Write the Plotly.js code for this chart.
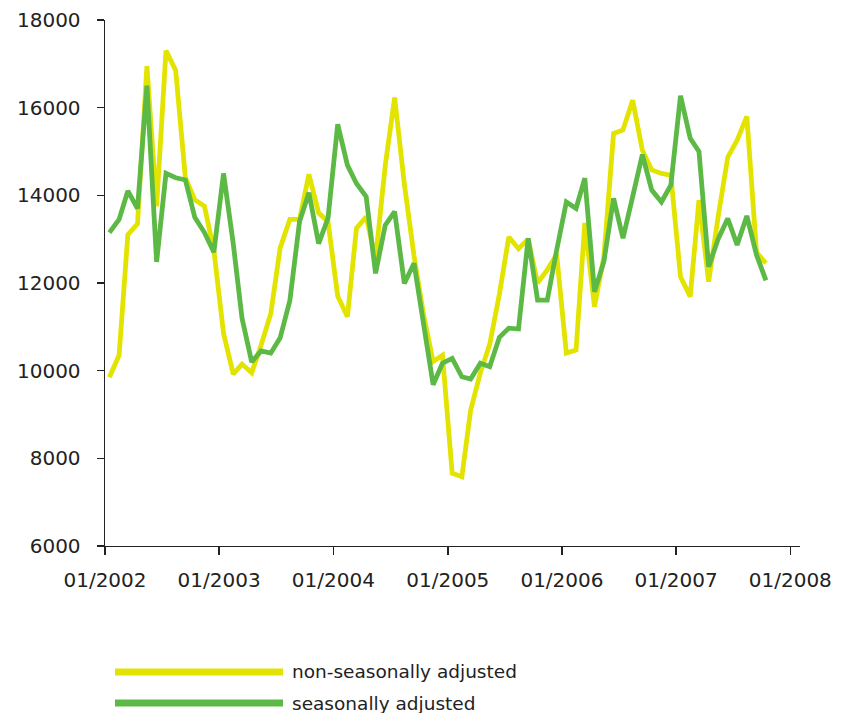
<!DOCTYPE html>
<html>
<head>
<meta charset="utf-8">
<script src="https://cdn.plot.ly/plotly-3.0.1.min.js"></script>
<style>
html,body{margin:0;padding:0;background:#fff;}
#chart{width:851px;height:713px;}
</style>
</head>
<body>
<div id="chart"></div>
<script>
// Monthly series, Jan 2002 – Oct 2007
var startYear = 2002;
var nonSeasonal = [
  9850, 10350, 13100, 13350, 16950, 13750, 17300, 16850, 14400, 13900, 13750, 12750,
  10850, 9920, 10150, 9950, 10580, 11300, 12800, 13450, 13450, 14480, 13600, 13400,
  11700, 11230, 13250, 13510, 12550, 14680, 16230, 14260, 12620, 11300, 10210, 10350,
  7660, 7580, 9100, 9950, 10600, 11750, 13050, 12780, 13000, 12000, 12300, 12650,
  10400, 10470, 13370, 11460, 12600, 15410, 15490, 16170, 15030, 14580, 14500, 14460,
  12140, 11690, 13890, 12030, 13500, 14870, 15260, 15800, 12700, 12450
];
var seasonal = [
  13150, 13450, 14100, 13700, 16500, 12480, 14500, 14400, 14350, 13500, 13150, 12700,
  14500, 12900, 11200, 10200, 10450, 10400, 10750, 11600, 13400, 14060, 12900, 13480,
  15620, 14690, 14270, 13970, 12220, 13320, 13630, 11990, 12450, 11080, 9680, 10170,
  10280, 9860, 9810, 10170, 10090, 10760, 10970, 10950, 13020, 11610, 11610, 12750,
  13850, 13700, 14390, 11800, 12490, 13930, 13020, 13970, 14930, 14120, 13850, 14230,
  16270, 15300, 15000, 12370, 13000, 13470, 12870, 13530, 12640, 12060
];
var seriesNames = ['non-seasonally adjusted', 'seasonally adjusted'];
var seriesColors = ['#e3e300', '#5cb946'];
var tickDates = ['2002-01-01','2003-01-01','2004-01-01','2005-01-01','2006-01-01','2007-01-01','2008-01-01'];
var tickText = ['01/2002','01/2003','01/2004','01/2005','01/2006','01/2007','01/2008'];
var yTicks = [6000, 8000, 10000, 12000, 14000, 16000, 18000];
var yTickText = ['6000', '8000', '10000', '12000', '14000', '16000', '18000'];

function pad(n){ return (n < 10 ? '0' : '') + n; }
var dates = [];
for (var i = 0; i < nonSeasonal.length; i++) {
  var y = startYear + Math.floor(i / 12);
  var m = (i % 12) + 1;
  dates.push(y + '-' + pad(m) + '-15');
}

var traces = [
  {x: dates, y: nonSeasonal, type: 'scatter', mode: 'lines', name: seriesNames[0],
   line: {color: seriesColors[0], width: 4.8}, hoverinfo: 'skip'},
  {x: dates, y: seasonal, type: 'scatter', mode: 'lines', name: seriesNames[1],
   line: {color: seriesColors[1], width: 4.8}, hoverinfo: 'skip'}
];

var font = {family: 'DejaVu Sans, Verdana, sans-serif', size: 20, color: '#222'};
var legY = [-0.2395, -0.2985];
var shapes = [], annotations = [];
for (var k = 0; k < 2; k++) {
  shapes.push({type: 'line', xref: 'paper', yref: 'paper', x0: 0.0144, x1: 0.2561,
    y0: legY[k], y1: legY[k], line: {color: seriesColors[k], width: 7}});
  annotations.push({xref: 'paper', yref: 'paper', x: 0.2662, y: legY[k], xanchor: 'left',
    yanchor: 'middle', showarrow: false, text: seriesNames[k],
    font: {family: 'DejaVu Sans, Verdana, sans-serif', size: 18.5, color: '#222'}});
}

var layout = {
  width: 851, height: 713,
  margin: {l: 105, r: 51, t: 20, b: 167, pad: 0},
  paper_bgcolor: '#fff', plot_bgcolor: '#fff',
  showlegend: false,
  font: font,
  xaxis: {
    type: 'date', range: ['2002-01-01', '2008-02-01'],
    tickmode: 'array', tickvals: tickDates, ticktext: tickText,
    showgrid: false, zeroline: false, showline: true, linecolor: '#222', linewidth: 1.4,
    ticks: 'outside', ticklen: 8, tickwidth: 1.4, tickcolor: '#222',
    ticklabelstandoff: 8, tickfont: font, fixedrange: true
  },
  yaxis: {
    range: [6000, 18000], tickmode: 'array', tickvals: yTicks, ticktext: yTickText,
    showgrid: false, zeroline: false, showline: true, linecolor: '#222', linewidth: 1.4,
    ticks: 'outside', ticklen: 7, tickwidth: 1.4, tickcolor: '#222',
    ticklabelstandoff: 12, tickfont: font, fixedrange: true
  },
  shapes: shapes,
  annotations: annotations
};

Plotly.newPlot('chart', traces, layout, {displayModeBar: false, staticPlot: true});
</script>
</body>
</html>
